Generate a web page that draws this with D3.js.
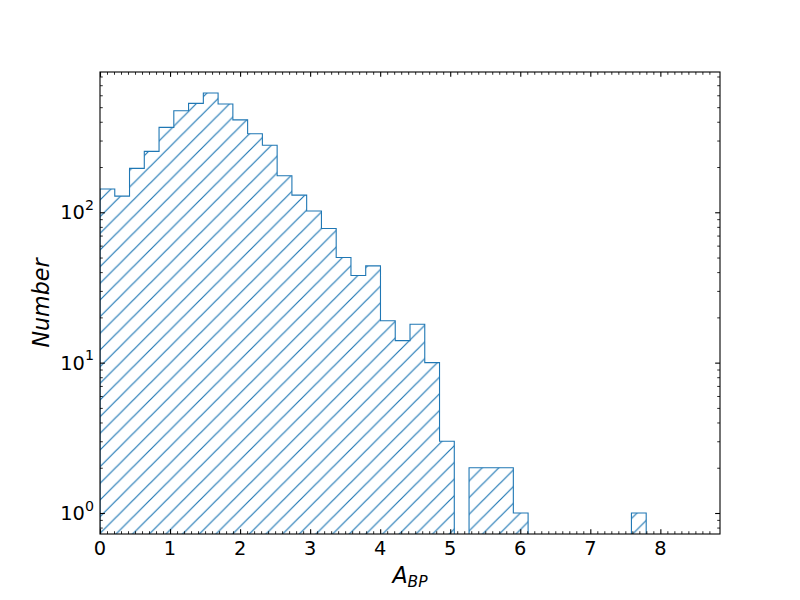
<!DOCTYPE html>
<html><head><meta charset="utf-8">
<script src="https://cdn.jsdelivr.net/npm/d3@7"></script>
<style>body{margin:0;background:#fff} svg{display:block} text{font-family:"DejaVu Sans",sans-serif;fill:#000}</style>
</head><body><svg id="c" width="800" height="600"></svg>
<script>
// ---- data ----
const binEdges = [0, 0.2108, 0.4215, 0.6323, 0.8430, 1.0538, 1.2645, 1.4753, 1.6860, 1.8968,
  2.1075, 2.3183, 2.5290, 2.7398, 2.9505, 3.1613, 3.3720, 3.5828, 3.7935, 4.0043,
  4.2150, 4.4258, 4.6365, 4.8473, 5.0580, 5.2688, 5.4795, 5.6903, 5.9010, 6.1118,
  6.3225, 6.5333, 6.7440, 6.9548, 7.1655, 7.3763, 7.5870, 7.7978, 8.0085, 8.2193, 8.4300];
const counts = [143, 128, 196, 254, 367, 473, 530, 621, 525, 412,
  333, 279, 175, 130, 102, 78, 50, 38, 44, 19,
  14, 18, 10, 3, 0, 2, 2, 2, 1, 0,
  0, 0, 0, 0, 0, 0, 1, 0, 0, 0];
const xMajorTicks = [0, 1, 2, 3, 4, 5, 6, 7, 8];
const yMajorTicks = [1, 10, 100];
const yTickExponents = ["0", "1", "2"];
const xDomain = [0, 8.8515];
const yDomain = [0.725, 857];
const yLabel = "Number";

// ---- layout ----
const L = 100, R = 720, T = 72, B = 534;
const color = "#1f77b4";
const svg = d3.select("#c");
const x = d3.scaleLinear().domain(xDomain).range([L, R]);
const y = d3.scaleLog().domain(yDomain).range([B, T]);

// hatch pattern
const defs = svg.append("defs");
const hs = 100 / 6;
const pat = defs.append("pattern").attr("id", "hatch").attr("patternUnits", "userSpaceOnUse")
  .attr("width", hs).attr("height", hs);
pat.append("path")
  .attr("d", `M0,${hs} L${hs},0 M${-hs/2},${hs/2} L${hs/2},${-hs/2} M${hs/2},${hs*1.5} L${hs*1.5},${hs/2}`)
  .attr("stroke", color).attr("stroke-width", 1.2).attr("fill", "none");
defs.append("clipPath").attr("id", "clip").append("rect")
  .attr("x", L).attr("y", T).attr("width", R - L).attr("height", B - T);

// histogram step polygon
const below = B + 20;
const yv = c => c > 0 ? y(c) : below;
const pts = [[x(binEdges[0]), below]];
counts.forEach((c, i) => {
  pts.push([x(binEdges[i]), yv(c)]);
  pts.push([x(binEdges[i + 1]), yv(c)]);
});
pts.push([x(binEdges[binEdges.length - 1]), below]);
const line = d3.line();
svg.append("path").attr("clip-path", "url(#clip)")
  .attr("d", line(pts) + "Z")
  .attr("fill", "url(#hatch)").attr("stroke", color).attr("stroke-width", 1.1)
  .attr("stroke-linejoin", "miter");

// ticks via d3 axes (inward, all sides)
const xMinor = d3.range(0, 88).map(i => i / 10).filter(v => v <= xDomain[1] && Math.abs(v - Math.round(v)) > 1e-6);
const yMinor = [];
[0.1, 1, 10, 100].forEach(d => { for (let k = 2; k <= 9; k++) { const v = d * k; if (v >= yDomain[0] && v <= yDomain[1]) yMinor.push(v); } });

function styleAxis(g, w) {
  g.select(".domain").remove();
  g.selectAll(".tick line").attr("stroke", "#000").attr("stroke-width", w);
  g.selectAll(".tick text").remove();
}
const MAJ = 4.86, MIN = 2.78;
svg.append("g").attr("transform", `translate(0,${B})`).call(d3.axisBottom(x).tickValues(xMajorTicks).tickSize(-MAJ)).call(g => styleAxis(g, 1.1));
svg.append("g").attr("transform", `translate(0,${B})`).call(d3.axisBottom(x).tickValues(xMinor).tickSize(-MIN)).call(g => styleAxis(g, 0.83));
svg.append("g").attr("transform", `translate(0,${T})`).call(d3.axisTop(x).tickValues(xMajorTicks).tickSize(-MAJ)).call(g => styleAxis(g, 1.1));
svg.append("g").attr("transform", `translate(0,${T})`).call(d3.axisTop(x).tickValues(xMinor).tickSize(-MIN)).call(g => styleAxis(g, 0.83));
svg.append("g").attr("transform", `translate(${L},0)`).call(d3.axisLeft(y).tickValues(yMajorTicks).tickSize(-MAJ)).call(g => styleAxis(g, 1.1));
svg.append("g").attr("transform", `translate(${L},0)`).call(d3.axisLeft(y).tickValues(yMinor).tickSize(-MIN)).call(g => styleAxis(g, 0.83));
svg.append("g").attr("transform", `translate(${R},0)`).call(d3.axisRight(y).tickValues(yMajorTicks).tickSize(-MAJ)).call(g => styleAxis(g, 1.1));
svg.append("g").attr("transform", `translate(${R},0)`).call(d3.axisRight(y).tickValues(yMinor).tickSize(-MIN)).call(g => styleAxis(g, 0.83));

// spines
svg.append("rect").attr("x", L).attr("y", T).attr("width", R - L).attr("height", B - T)
  .attr("fill", "none").attr("stroke", "#000").attr("stroke-width", 1.1);

// tick labels
svg.append("g").selectAll("text").data(xMajorTicks).join("text")
  .attr("x", d => x(d)).attr("y", B + 21).attr("text-anchor", "middle")
  .attr("font-size", 19.4).text(d => d);
const yl = svg.append("g").selectAll("text").data(yMajorTicks).join("text")
  .attr("x", L - 6).attr("y", d => y(d) + 7).attr("text-anchor", "end").attr("font-size", 19.4);
yl.append("tspan").text("10");
yl.append("tspan").attr("dy", -9.3).attr("font-size", 14.2).text((d, i) => yTickExponents[i]);

// axis labels
const xl = svg.append("text").attr("x", (L + R) / 2).attr("y", 583).attr("text-anchor", "middle")
  .attr("font-size", 22.2).attr("font-style", "italic");
xl.append("tspan").text("A");
xl.append("tspan").attr("dy", 4).attr("font-size", 15.5).text("BP");
svg.append("text").attr("transform", `translate(49,${(T + B) / 2}) rotate(-90)`)
  .attr("text-anchor", "middle").attr("font-size", 22.2).attr("font-style", "italic").text(yLabel);
</script></body></html>
